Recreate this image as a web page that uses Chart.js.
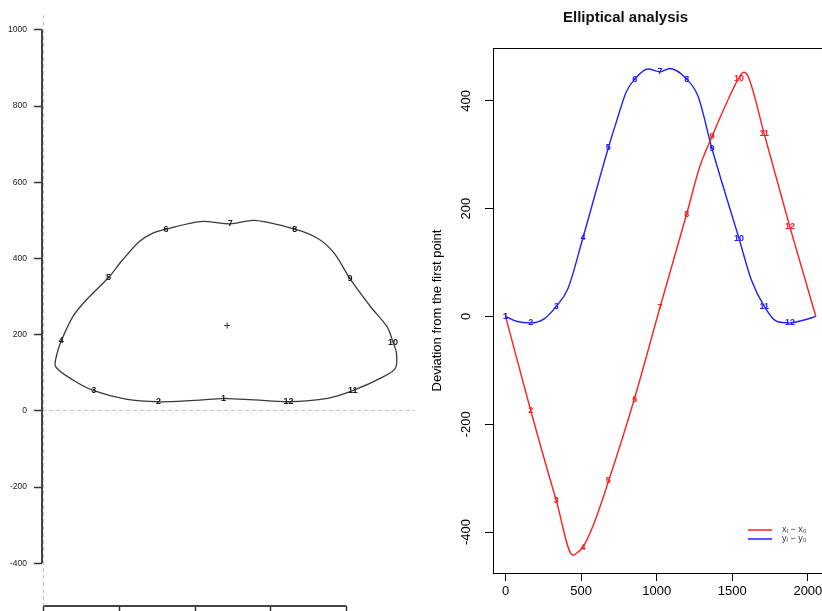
<!DOCTYPE html>
<html>
<head>
<meta charset="utf-8">
<script src="https://cdn.jsdelivr.net/npm/chart.js@4.4.0/dist/chart.umd.min.js"></script>
<style>
  html, body { margin: 0; padding: 0; background: #fff; overflow: hidden; }
  #left { position: absolute; left: 0; top: 0; }
  #right { position: absolute; left: 420px; top: 0; }
</style>
</head>
<body>
<canvas id="left" width="420" height="611"></canvas>
<canvas id="right" width="484" height="611"></canvas>
<script>
// shape outline, going round from point 1
const outlineX = [475, 388, 303, 217, 132, 77, 31, 35, 46, 77, 112, 171, 208, 252, 287, 323, 414, 493, 558, 664, 724, 768, 810, 864, 908, 924, 933, 930, 899, 817, 751, 647, 558];
const outlineY = [33, 27, 24, 31, 53, 81, 116, 151, 184, 248, 291, 350, 396, 444, 466, 477, 497, 491, 500, 477, 453, 414, 347, 274, 221, 180, 151, 112, 90, 53, 33, 24, 29];

// the 12 numbered points and the centre
const markNames = ['1', '2', '3', '4', '5', '6', '7', '8', '9', '10', '11', '12'];
const markX = [475, 303, 132, 46, 171, 323, 493, 664, 810, 924, 817, 647];
const markY = [33, 24, 53, 184, 350, 477, 491, 477, 347, 180, 53, 24];
const centreX = [485];
const centreY = [224];

const leftXTicks = [0, 200, 400, 600, 800];
const leftYTicks = [-400, -200, 0, 200, 400, 600, 800, 1000];

// elliptical analysis: deviation vs distance along the outline
const redS = [0, 166, 336, 446, 480, 512, 578, 682, 850, 1022, 1197, 1285, 1366, 1462, 1543, 1576, 1605, 1711, 1881, 2053];
const redV = [0, -174, -342, -443, -437, -428, -389, -305, -155, 17, 189, 278, 334, 396, 442, 453, 445, 339, 166, 0];
const blueS = [0, 71, 166, 258, 336, 413, 512, 680, 733, 799, 854, 942, 1022, 1086, 1199, 1274, 1366, 1545, 1627, 1711, 1792, 1881, 1969, 2053];
const blueV = [0, -9, -12, -4, 19, 52, 146, 313, 361, 417, 440, 459, 454, 460, 440, 408, 311, 144, 67, 19, -9, -12, -7, 0];

const markS = [0, 166, 336, 512, 680, 854, 1022, 1199, 1366, 1545, 1711, 1881];
const markDx = [0, -174, -342, -428, -305, -155, 17, 189, 334, 442, 339, 166];
const markDy = [0, -12, 19, 146, 313, 440, 454, 440, 311, 144, 19, -12];

const seriesNames = ['x\u1d62 \u2212 x\u2080', 'y\u1d62 \u2212 y\u2080'];
const seriesColors = ['#ff2020', '#2020ff'];

const rightXTicks = [0, 500, 1000, 1500, 2000];
const rightYTicks = [-400, -200, 0, 200, 400];

const FONT = '"Liberation Sans", Arial, Helvetica, sans-serif';

function pts(xs, ys) {
  return xs.map((x, i) => ({ x: x, y: ys[i] }));
}

function setTicks(values) {
  return scale => { scale.ticks = values.map(v => ({ value: v })); };
}

// R style axis line: only from the first to the last tick
const axisLines = {
  id: 'axisLines',
  afterDraw(chart, args, opts) {
    const ctx = chart.ctx;
    (opts.scales || []).forEach(id => {
      const scale = chart.scales[id];
      const vals = scale.ticks.map(t => t.value);
      const a = scale.getPixelForValue(vals[0]);
      const b = scale.getPixelForValue(vals[vals.length - 1]);
      ctx.save();
      ctx.strokeStyle = opts.color;
      ctx.lineWidth = opts.width;
      ctx.beginPath();
      if (scale.isHorizontal()) {
        ctx.moveTo(a, scale.top);
        ctx.lineTo(b, scale.top);
      } else {
        ctx.moveTo(scale.right, a);
        ctx.lineTo(scale.right, b);
      }
      ctx.stroke();
      ctx.restore();
    });
  }
};

// numbers written on the points
const pointNumbers = {
  id: 'pointNumbers',
  afterDatasetsDraw(chart) {
    const ctx = chart.ctx;
    chart.data.datasets.forEach((ds, i) => {
      if (!ds.numbers) return;
      const meta = chart.getDatasetMeta(i);
      ctx.save();
      ctx.font = ds.numberFont;
      ctx.fillStyle = ds.numberColor;
      ctx.textAlign = 'center';
      ctx.textBaseline = 'middle';
      meta.data.forEach((el, j) => ctx.fillText(ds.numbers[j], el.x, el.y));
      ctx.restore();
    });
  }
};

const boxPlugin = {
  id: 'boxPlugin',
  afterDraw(chart) {
    const a = chart.chartArea;
    const ctx = chart.ctx;
    ctx.save();
    ctx.strokeStyle = '#000';
    ctx.lineWidth = 1;
    ctx.strokeRect(Math.round(a.left) + 0.5, Math.round(a.top) + 0.5, Math.round(a.right - a.left), Math.round(a.bottom - a.top));
    ctx.restore();
  }
};

const cornerLegend = {
  id: 'cornerLegend',
  afterDraw(chart) {
    const a = chart.chartArea;
    const ctx = chart.ctx;
    ctx.save();
    ctx.font = '9px ' + FONT;
    ctx.textBaseline = 'middle';
    seriesNames.forEach((name, i) => {
      const y = a.bottom - 43 + i * 9;
      ctx.strokeStyle = seriesColors[i];
      ctx.lineWidth = 1.5;
      ctx.beginPath();
      ctx.moveTo(a.right - 83, y);
      ctx.lineTo(a.right - 59, y);
      ctx.stroke();
      ctx.fillStyle = '#333';
      ctx.fillText(name, a.right - 49, y);
    });
    ctx.restore();
  }
};

const zeroDashed = c => (c.tick && c.tick.value === 0) ? '#c4c4c4' : 'rgba(0,0,0,0)';

function fitWidth(w) {
  return s => { s.width = w; s.paddingTop = 0; s.paddingBottom = 0; };
}
function fitHeight(h) {
  return s => { s.height = h; s.paddingLeft = 0; s.paddingRight = 0; };
}

const outline = pts(outlineX, outlineY);
outline.push({ x: outlineX[0], y: outlineY[0] });

new Chart(document.getElementById('left'), {
  type: 'scatter',
  data: {
    datasets: [
      { data: outline, showLine: true, borderColor: '#3a3a3a', borderWidth: 1.3, tension: 0.3, pointRadius: 0 },
      { data: pts(markX, markY), pointRadius: 0, numbers: markNames, numberFont: 'bold 9px ' + FONT, numberColor: '#1a1a1a' },
      { data: pts(centreX, centreY), pointStyle: 'cross', pointRadius: 3, borderColor: '#333', borderWidth: 1 }
    ]
  },
  options: {
    responsive: false,
    animation: false,
    devicePixelRatio: 1,
    layout: { padding: { top: 15, right: 2, left: 0, bottom: 0 } },
    plugins: {
      legend: { display: false },
      tooltip: { enabled: false },
      axisLines: { scales: ['x', 'y'], color: '#444', width: 2 }
    },
    scales: {
      x: {
        type: 'linear', min: -5, max: 982,
        afterBuildTicks: setTicks(leftXTicks),
        afterFit: fitHeight(5),
        grid: { color: zeroDashed, lineWidth: 1, tickLength: 9, tickColor: '#333', tickWidth: 1.5 },
        border: { display: false, dash: [4, 3] },
        ticks: { display: false }
      },
      y: {
        min: -512, max: 1039,
        afterBuildTicks: setTicks(leftYTicks),
        afterFit: fitWidth(42),
        grid: { color: zeroDashed, lineWidth: 1, tickLength: 8, tickColor: '#333', tickWidth: 1.5 },
        border: { display: false, dash: [4, 3] },
        ticks: { padding: 7, color: '#222', font: { size: 8.5, family: FONT }, callback: v => String(v), autoSkip: false }
      }
    }
  },
  plugins: [axisLines, pointNumbers]
});

new Chart(document.getElementById('right'), {
  type: 'scatter',
  data: {
    datasets: [
      { data: pts(redS, redV), showLine: true, borderColor: seriesColors[0], borderWidth: 1.4, cubicInterpolationMode: 'monotone', pointRadius: 0 },
      { data: pts(blueS, blueV), showLine: true, borderColor: seriesColors[1], borderWidth: 1.4, cubicInterpolationMode: 'monotone', pointRadius: 0 },
      { data: pts(markS, markDx), pointRadius: 0, numbers: markNames, numberFont: 'bold 9px ' + FONT, numberColor: seriesColors[0] },
      { data: pts(markS, markDy), pointRadius: 0, numbers: markNames, numberFont: 'bold 9px ' + FONT, numberColor: seriesColors[1] }
    ]
  },
  options: {
    responsive: false,
    animation: false,
    devicePixelRatio: 1,
    layout: { padding: { top: 0, right: 73, left: 0, bottom: 0 } },
    plugins: {
      legend: { display: false },
      tooltip: { enabled: false },
      title: {
        display: true, text: 'Elliptical analysis', color: '#111',
        font: { size: 15, weight: 'bold', family: FONT },
        padding: { top: 9, bottom: 21 }
      }
    },
    scales: {
      x: {
        type: 'linear', min: -83, max: 2153,
        afterBuildTicks: setTicks(rightXTicks),
        afterFit: fitHeight(38),
        grid: { drawOnChartArea: false, tickLength: 8, tickColor: '#000' },
        border: { display: false },
        ticks: { padding: 3, color: '#000', font: { size: 13, family: FONT }, maxRotation: 0, autoSkip: false, callback: v => String(v) }
      },
      y: {
        min: -476, max: 498,
        afterBuildTicks: setTicks(rightYTicks),
        afterFit: fitWidth(73),
        grid: { drawOnChartArea: false, tickLength: 8, tickColor: '#000' },
        border: { display: false },
        ticks: { padding: 6, color: '#000', font: { size: 13, family: FONT }, minRotation: 90, maxRotation: 90, crossAlign: 'center', autoSkip: false, callback: v => String(v) },
        title: { display: true, text: 'Deviation from the first point', color: '#000', font: { size: 13, family: FONT }, padding: { top: 10, bottom: 0 } }
      }
    }
  },
  plugins: [boxPlugin, pointNumbers, cornerLegend]
});
</script>
</body>
</html>
